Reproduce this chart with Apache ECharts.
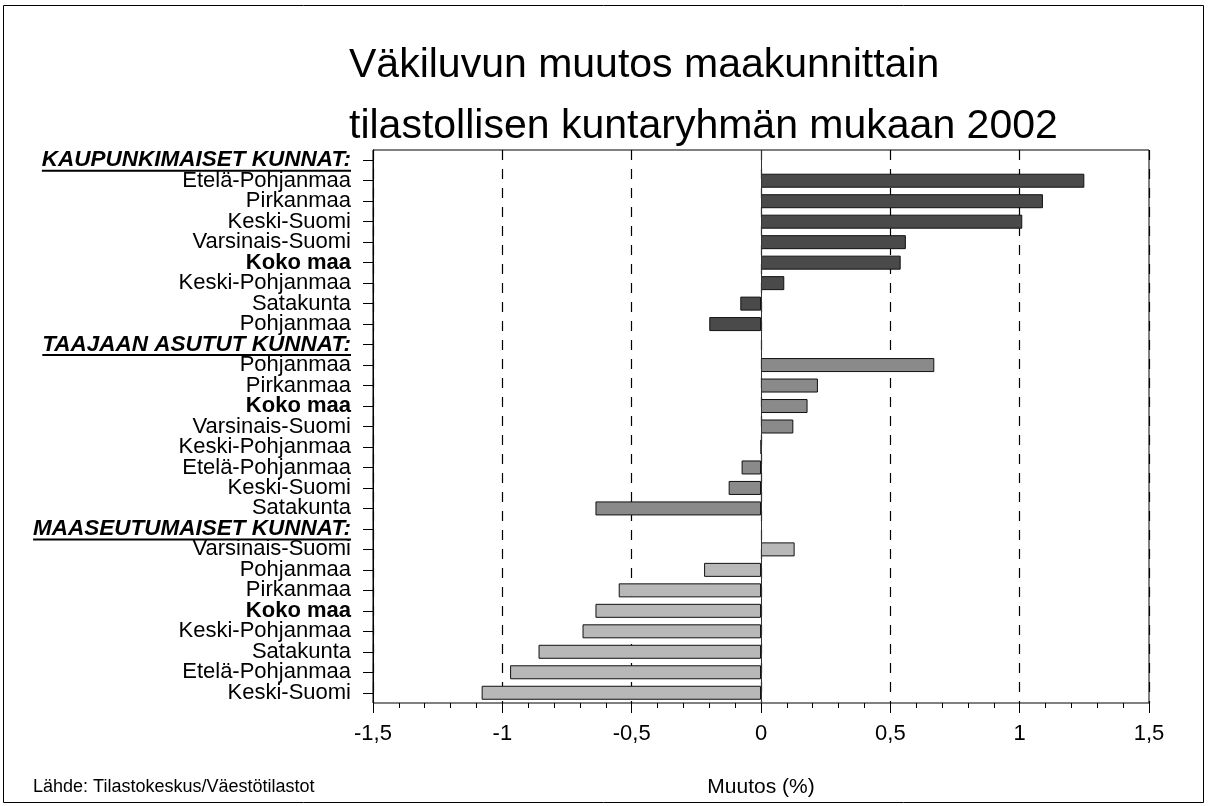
<!DOCTYPE html>
<html>
<head>
<meta charset="utf-8">
<script src="https://cdn.jsdelivr.net/npm/echarts@6/dist/echarts.min.js"></script>
<style>
html,body{margin:0;padding:0;background:#fff;}
#chart{width:1208px;height:806px;}
</style>
</head>
<body>
<div id="chart"></div>
<script>
const titleLines = ['Väkiluvun muutos maakunnittain', 'tilastollisen kuntaryhmän mukaan 2002'];
const sourceText = 'Lähde: Tilastokeskus/Väestötilastot';
const axisName = 'Muutos (%)';
const headers = ['KAUPUNKIMAISET KUNNAT:', 'TAAJAAN ASUTUT KUNNAT:', 'MAASEUTUMAISET KUNNAT:'];
const group1Names = ['Etelä-Pohjanmaa','Pirkanmaa','Keski-Suomi','Varsinais-Suomi','Koko maa','Keski-Pohjanmaa','Satakunta','Pohjanmaa'];
const group1Values = [1.25, 1.09, 1.01, 0.56, 0.54, 0.09, -0.08, -0.20];
const group2Names = ['Pohjanmaa','Pirkanmaa','Koko maa','Varsinais-Suomi','Keski-Pohjanmaa','Etelä-Pohjanmaa','Keski-Suomi','Satakunta'];
const group2Values = [0.67, 0.22, 0.18, 0.125, 0, -0.075, -0.125, -0.64];
const group3Names = ['Varsinais-Suomi','Pohjanmaa','Pirkanmaa','Koko maa','Keski-Pohjanmaa','Satakunta','Etelä-Pohjanmaa','Keski-Suomi'];
const group3Values = [0.13, -0.22, -0.55, -0.64, -0.69, -0.86, -0.97, -1.08];
const groupColors = ['#4a4a4a', '#8a8a8a', '#b8b8b8'];
const xTicks = [-1.5, -1, -0.5, 0, 0.5, 1, 1.5];

const groups = [[group1Names, group1Values], [group2Names, group2Values], [group3Names, group3Values]];
const categories = [];
const barData = [];
const headerIdx = new Set();
groups.forEach((g, gi) => {
  headerIdx.add(categories.length);
  categories.push(headers[gi]);
  barData.push('-');
  g[0].forEach((n, i) => {
    categories.push(n + '#' + gi + '_' + i);
    barData.push({value: g[1][i], itemStyle: {color: groupColors[gi]}});
  });
});

const FONT = '"Liberation Sans", Arial, sans-serif';
const HFS = 22.5;
const chart = echarts.init(document.getElementById('chart'), null, {renderer: 'canvas'});
const option = {
  animation: false,
  backgroundColor: '#fff',
  title: {
    text: titleLines.join('\n'),
    left: 344, top: 30,
    textStyle: {fontFamily: FONT, fontSize: 41, fontWeight: 'normal', color: '#000', lineHeight: 61}
  },
  grid: {left: 373, right: 59, top: 150, bottom: 103, show: true, borderColor: '#000', borderWidth: 1, backgroundColor: 'transparent'},
  xAxis: {
    type: 'value', min: -1.5, max: 1.5, interval: 0.5,
    name: axisName, nameLocation: 'middle', nameGap: 74,
    nameTextStyle: {fontFamily: FONT, fontSize: 21, color: '#000'},
    axisLine: {onZero: false, lineStyle: {color: '#000', width: 1}},
    axisTick: {show: true, length: 10, lineStyle: {color: '#000'}},
    minorTick: {show: true, splitNumber: 5, length: 5, lineStyle: {color: '#000'}},
    axisLabel: {fontFamily: FONT, fontSize: 22, color: '#000', margin: 20,
      formatter: v => String(xTicks.find(t => Math.abs(t - v) < 1e-9) ?? v).replace('.', ',')},
    splitLine: {show: true, lineStyle: {color: '#000', type: [10, 9], width: 1.2}}
  },
  yAxis: {
    type: 'category', data: categories, inverse: true,
    axisLine: {onZero: false, lineStyle: {color: '#000'}},
    axisTick: {show: true, length: 10, alignWithLabel: true, lineStyle: {color: '#000'}},
    axisLabel: {
      fontFamily: FONT, fontSize: 22, color: '#000', margin: 22, interval: 0,
      formatter: (v, idx) => {
        if (headerIdx.has(idx)) return '{h|' + v + '}';
        const name = v.split('#')[0];
        if (name === 'Koko maa') return '{b|' + name + '}';
        return name;
      },
      rich: {
        h: {fontFamily: FONT, fontSize: HFS, fontWeight: 'bold', fontStyle: 'italic', color: '#000'},
        b: {fontFamily: FONT, fontSize: 22, fontWeight: 'bold', color: '#000'}
      }
    },
    splitLine: {show: false}
  },
  series: [{
    type: 'bar', data: barData, barWidth: 14,
    itemStyle: {borderColor: '#111', borderWidth: 1},
    markLine: {silent: true, symbol: 'none', label: {show: false},
      lineStyle: {color: '#333', type: 'solid', width: 1}, data: [{xAxis: 0}]}
  }],
  graphic: [
    {type: 'rect', shape: {x: 3.5, y: 5.5, width: 1200, height: 797}, style: {fill: 'none', stroke: '#000', lineWidth: 1}, silent: true},
    {type: 'text', left: 33, top: 778, style: {text: sourceText, font: '18px ' + FONT, fill: '#000'}}
  ]
};
chart.setOption(option);

// underline headers using library pixel conversion
const ctx = document.createElement('canvas').getContext('2d');
ctx.font = 'italic bold ' + HFS + 'px ' + FONT;
const lines = [];
headerIdx.forEach(idx => {
  const p = chart.convertToPixel({gridIndex: 0}, [-1.5, categories[idx]]);
  const w = ctx.measureText(categories[idx]).width;
  const right = p[0] - 22;
  lines.push({type: 'line', shape: {x1: right - w, y1: p[1] + 10.5, x2: right, y2: p[1] + 10.5}, style: {stroke: '#000', lineWidth: 2}, silent: true});
});
chart.setOption({graphic: option.graphic.concat(lines)});
</script>
</body>
</html>
